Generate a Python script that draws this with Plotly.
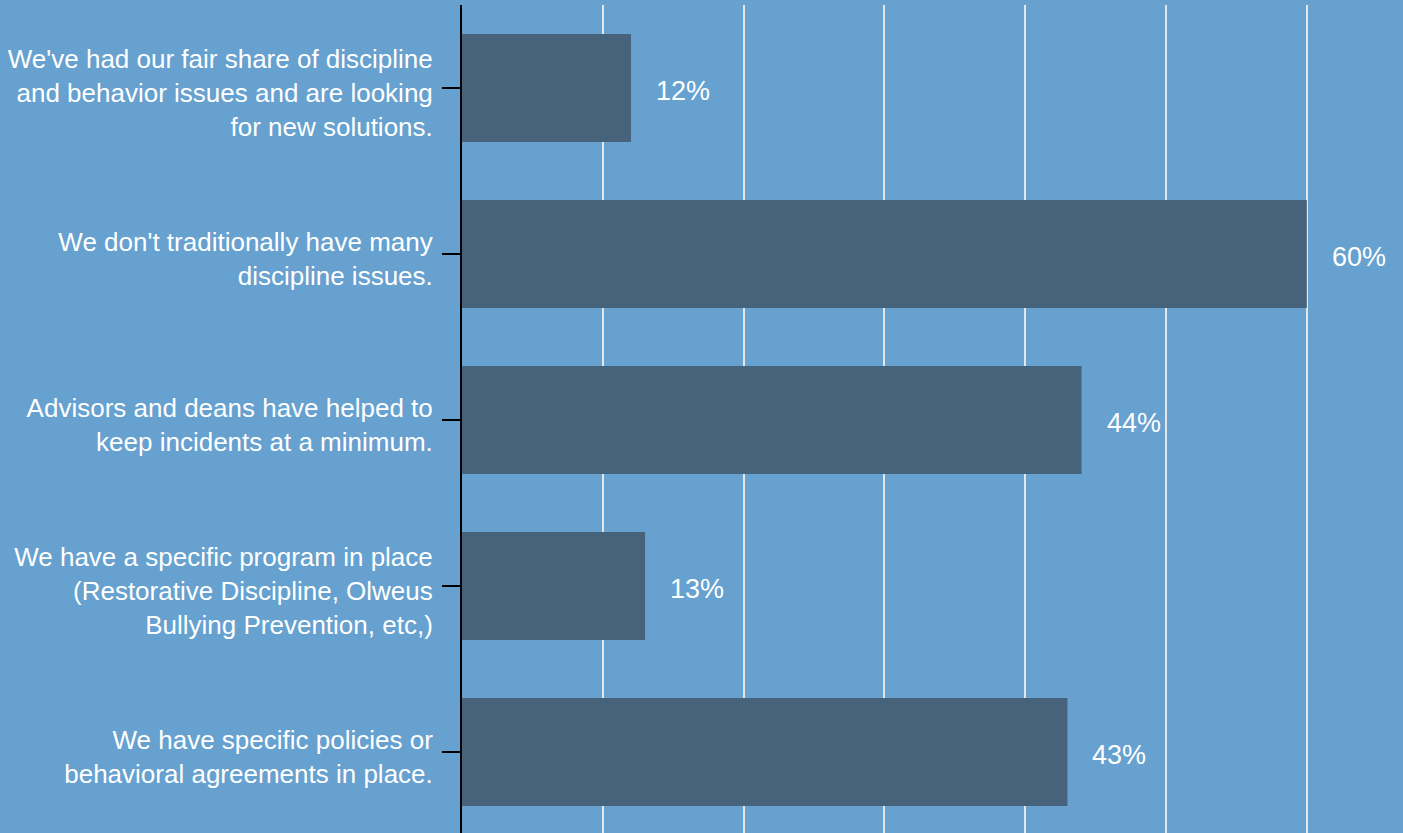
import plotly.graph_objects as go

categories = [
    "We've had our fair share of discipline<br>and behavior issues and are looking<br>for new solutions.",
    "We don't traditionally have many<br>discipline issues.",
    "Advisors and deans have helped to<br>keep incidents at a minimum.",
    "We have a specific program in place<br>(Restorative Discipline, Olweus<br>Bullying Prevention, etc,)",
    "We have specific policies or<br>behavioral agreements in place.",
]
values = [12, 60, 44, 13, 43]
value_labels = ["12%", "60%", "44%", "13%", "43%"]

BG = "#66a1cf"
BAR = "#46637b"
FONT = "Liberation Sans, Arial, sans-serif"

fig = go.Figure()
fig.add_trace(go.Bar(
    x=values, y=categories, orientation="h",
    marker=dict(color=BAR, line=dict(width=0)),
    width=0.65, hoverinfo="skip",
))

for v, lab, c in zip(values, value_labels, categories):
    fig.add_annotation(x=v, y=c, text=lab, showarrow=False,
                       xanchor="left", yanchor="middle", xshift=23, yshift=-3,
                       font=dict(family=FONT, size=27, color="white"))

fig.update_layout(
    width=1403, height=833,
    margin=dict(l=462, r=0, t=5, b=0),
    paper_bgcolor=BG, plot_bgcolor=BG,
    showlegend=False,
    font=dict(family=FONT, size=26, color="white"),
    xaxis=dict(range=[0, 66.83], dtick=10, showgrid=True, gridcolor="#e6e6e6",
               gridwidth=2, showticklabels=False, zeroline=False, ticks=""),
    yaxis=dict(autorange=False, range=[4.488, -0.5], showline=True, linecolor="black",
               linewidth=2, ticks="outside", ticklen=18, tickwidth=2, tickcolor="black",
               ticklabelstandoff=4, ticklabelshift=-5, showgrid=False,
               tickfont=dict(family=FONT, size=26, color="white")),
)

fig.write_html("out.html", config={"displayModeBar": False},
               post_script="document.body.style.margin='0';document.body.style.background='%s';" % BG)
